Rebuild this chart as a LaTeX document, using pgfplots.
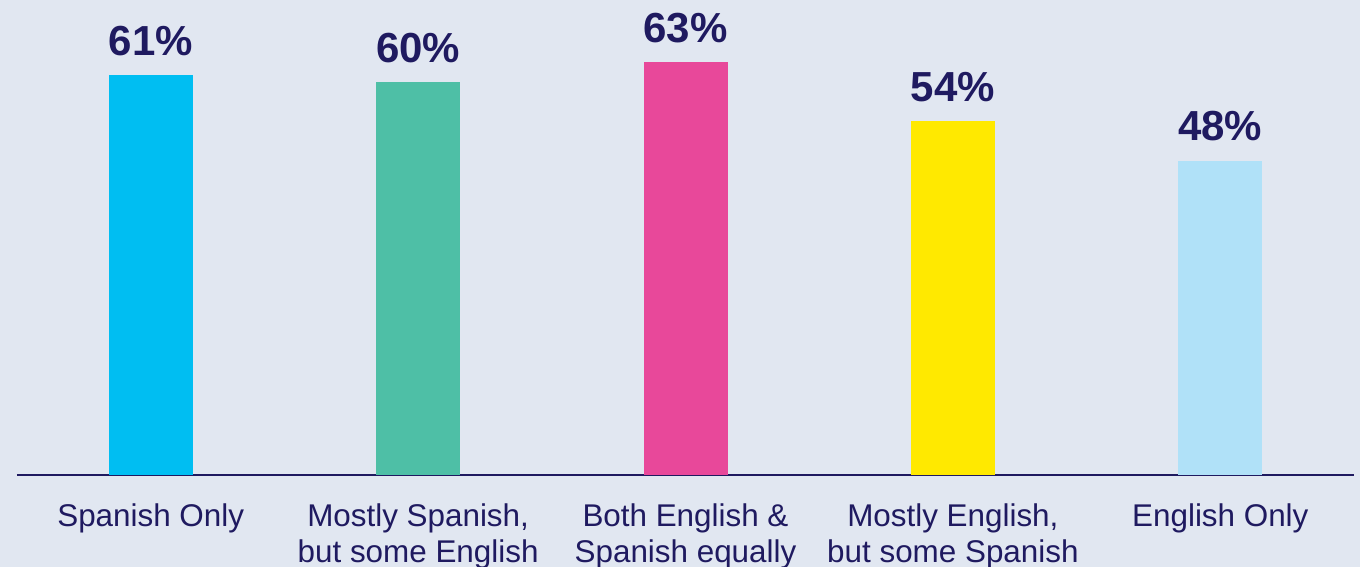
\documentclass[border=0pt]{standalone}
\usepackage{pgfplots}
\pgfplotsset{compat=1.18}
\usepackage{fontspec}
\setmainfont{Liberation Sans}
\definecolor{bg}{HTML}{E1E7F1}
\definecolor{navy}{HTML}{1F1A60}
\definecolor{c1}{HTML}{00BEF2}
\definecolor{c2}{HTML}{4EBFA6}
\definecolor{c3}{HTML}{E8489A}
\definecolor{c4}{HTML}{FFE900}
\definecolor{c5}{HTML}{B0E1F8}
\begin{document}
\begin{tikzpicture}
\useasboundingbox[fill=bg] (0,0) rectangle (680pt,283.5pt);
\begin{axis}[
  at={(8.5pt,46pt)}, anchor=south west,
  scale only axis,
  width=668.5pt, height=237.5pt,
  xmin=-0.5, xmax=4.5, ymin=0, ymax=72.5,
  clip=false,
  /pgf/number format/assume math mode=true,
  axis x line=bottom, axis y line=none,
  x axis line style={-, draw=navy, line width=1pt},
  xtick={0,1,2,3,4},
  xticklabels={{Spanish Only},{Mostly Spanish,\\but some English},{Both English \&\\Spanish equally},{Mostly English,\\but some Spanish},{English Only}},
  xtick style={draw=none},
  major tick length=0pt,
  xticklabel style={anchor=north, inner sep=0pt, yshift=-14pt, align=center, text=navy, font=\fontsize{15.7}{18.3}\selectfont},
  ybar, bar width=42pt, bar shift=0pt,
  nodes near coords={\pgfmathprintnumber{\pgfplotspointmeta}\%},
  every node near coord/.append style={anchor=south, inner sep=0pt, yshift=9.5pt, text=navy, font=\fontsize{21}{24}\selectfont\bfseries},
]
\addplot[fill=c1, draw=none] coordinates {(0,61)};
\addplot[fill=c2, draw=none] coordinates {(1,60)};
\addplot[fill=c3, draw=none] coordinates {(2,63)};
\addplot[fill=c4, draw=none] coordinates {(3,54)};
\addplot[fill=c5, draw=none] coordinates {(4,48)};
\end{axis}
\end{tikzpicture}
\end{document}
